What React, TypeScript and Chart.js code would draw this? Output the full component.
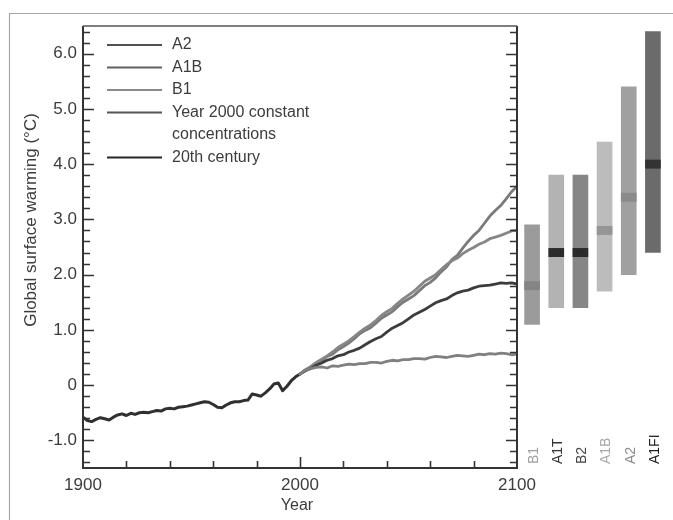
import React, { useEffect, useRef } from 'react';
import { Chart, registerables } from 'chart.js';

Chart.register(...registerables);

// ---------- DATA ----------
const histYears = [
  1900, 1902, 1904, 1906, 1908, 1910, 1912, 1914, 1916, 1918,
  1920, 1922, 1924, 1926, 1928, 1930, 1932, 1934, 1936, 1938,
  1940, 1942, 1944, 1946, 1948, 1950, 1952, 1954, 1956, 1958,
  1960, 1962, 1964, 1966, 1968, 1970, 1972, 1974, 1976, 1978,
  1980, 1982, 1984, 1986, 1988, 1990, 1992, 1994, 1996, 1998, 2000,
];
const histValues = [
  -0.58, -0.64, -0.66, -0.62, -0.59, -0.61, -0.63, -0.58, -0.54, -0.52,
  -0.55, -0.51, -0.53, -0.5, -0.49, -0.5, -0.48, -0.46, -0.47, -0.43,
  -0.42, -0.43, -0.4, -0.39, -0.38, -0.36, -0.34, -0.32, -0.3, -0.31,
  -0.35, -0.4, -0.41, -0.36, -0.32, -0.3, -0.3, -0.28, -0.27, -0.16,
  -0.18, -0.2, -0.14, -0.07, 0.02, 0.04, -0.1, -0.02, 0.08, 0.15, 0.2,
];

const projYears = [
  2000, 2002.5, 2005, 2007.5, 2010, 2012.5, 2015, 2017.5, 2020, 2022.5,
  2025, 2027.5, 2030, 2032.5, 2035, 2037.5, 2040, 2042.5, 2045, 2047.5,
  2050, 2052.5, 2055, 2057.5, 2060, 2062.5, 2065, 2067.5, 2070, 2072.5,
  2075, 2077.5, 2080, 2082.5, 2085, 2087.5, 2090, 2092.5, 2095, 2097.5, 2100,
];
const a2Values = [
  0.2, 0.27, 0.33, 0.37, 0.44, 0.52, 0.56, 0.64, 0.7, 0.76,
  0.84, 0.93, 0.99, 1.04, 1.12, 1.21, 1.27, 1.33, 1.42, 1.5,
  1.56, 1.62, 1.71, 1.8, 1.86, 1.94, 2.05, 2.14, 2.27, 2.35,
  2.48, 2.6, 2.71, 2.8, 2.93, 3.06, 3.16, 3.25, 3.37, 3.5, 3.6,
];
const a1bValues = [
  0.2, 0.28, 0.34, 0.41, 0.47, 0.53, 0.6, 0.68, 0.74, 0.8,
  0.88, 0.96, 1.03, 1.09, 1.17, 1.26, 1.33, 1.39, 1.48, 1.56,
  1.63, 1.7, 1.79, 1.88, 1.94, 2.0, 2.09, 2.18, 2.25, 2.3,
  2.38, 2.44, 2.49, 2.55, 2.59, 2.65, 2.68, 2.71, 2.75, 2.79, 2.8,
];
const b1Values = [
  0.2, 0.26, 0.3, 0.36, 0.4, 0.45, 0.48, 0.53, 0.55, 0.6,
  0.63, 0.67, 0.73, 0.79, 0.84, 0.88, 0.96, 1.03, 1.08, 1.13,
  1.2, 1.27, 1.32, 1.37, 1.43, 1.49, 1.53, 1.56, 1.62, 1.67,
  1.7, 1.72, 1.76, 1.79, 1.8, 1.81, 1.83, 1.85, 1.84, 1.85, 1.83,
];
const constValues = [
  0.2, 0.27, 0.3, 0.32, 0.33, 0.31, 0.35, 0.34, 0.36, 0.38,
  0.37, 0.39, 0.39, 0.41, 0.41, 0.4, 0.43, 0.45, 0.44, 0.46,
  0.46, 0.48, 0.48, 0.47, 0.5, 0.52, 0.51, 0.5, 0.52, 0.54,
  0.53, 0.52, 0.54, 0.56, 0.55, 0.57, 0.56, 0.58, 0.57, 0.55, 0.56,
];

const scenarioNames = ['B1', 'A1T', 'B2', 'A1B', 'A2', 'A1FI'];
const rangeLow = [1.1, 1.4, 1.4, 1.7, 2.0, 2.4];
const rangeHigh = [2.9, 3.8, 3.8, 4.4, 5.4, 6.4];
const bestEstimate = [1.8, 2.4, 2.4, 2.8, 3.4, 4.0];

const yTickValues = [-1, 0, 1, 2, 3, 4, 5, 6];
const xTickValues = [1900, 2000, 2100];
const legendLabels = [['A2'], ['A1B'], ['B1'], ['Year 2000 constant', 'concentrations'], ['20th century']];

// ---------- STYLES ----------
const FONT = '"Liberation Sans", Arial, sans-serif';
const TEXT = '#3c3c3c';
const lineColors = ['#7a7a7a', '#868686', '#3c3c3c', '#808080', '#303030'];
const legendColors = ['#505050', '#606060', '#8a8a8a', '#555555', '#262626'];
const barColors = ['#9b9b9b', '#b3b3b3', '#868686', '#bcbcbc', '#a0a0a0', '#6b6b6b'];
const bandColors = ['#858585', '#2b2b2b', '#2b2b2b', '#959595', '#8b8b8b', '#333333'];
const labelColors = ['#a0a0a0', '#333333', '#444444', '#a8a8a8', '#8a8a8a', '#222222'];

const mainPlugin = {
  id: 'mainDecor',
  afterDraw(chart: any) {
    const { ctx, chartArea: a, scales } = chart;
    const x = scales.x;
    const y = scales.y;
    ctx.save();
    // outer frame
    ctx.strokeStyle = '#a8a8a8';
    ctx.lineWidth = 1.2;
    ctx.beginPath();
    ctx.moveTo(9.5, 520);
    ctx.lineTo(9.5, 13.5);
    ctx.lineTo(673, 13.5);
    ctx.stroke();

    // plot box
    ctx.strokeStyle = '#333';
    ctx.lineWidth = 2;
    ctx.beginPath();
    ctx.moveTo(a.left, a.top);
    ctx.lineTo(a.left, a.bottom);
    ctx.lineTo(a.right, a.bottom);
    ctx.lineTo(a.right, a.top);
    ctx.stroke();
    ctx.lineWidth = 1.4;
    ctx.strokeStyle = '#555';
    ctx.beginPath();
    ctx.moveTo(a.left, a.top);
    ctx.lineTo(a.right, a.top);
    ctx.stroke();

    // y ticks (inward on both sides)
    ctx.strokeStyle = '#333';
    ctx.lineWidth = 1.6;
    for (let k = -7; k <= 32; k++) {
      const v = k / 5;
      const py = Math.round(y.getPixelForValue(v)) + 0.5;
      const major = k % 5 === 0;
      const len = major ? 11 : 7;
      ctx.beginPath();
      ctx.moveTo(a.left, py);
      ctx.lineTo(a.left + len, py);
      ctx.moveTo(a.right, py);
      ctx.lineTo(a.right - len, py);
      ctx.stroke();
    }
    // x ticks (upward)
    for (let yr = 1920; yr < 2100; yr += 20) {
      const px = Math.round(x.getPixelForValue(yr)) + 0.5;
      const len = yr === 2000 ? 11 : 7;
      ctx.beginPath();
      ctx.moveTo(px, a.bottom);
      ctx.lineTo(px, a.bottom - len);
      ctx.stroke();
    }

    // legend
    ctx.font = `16px ${FONT}`;
    ctx.textBaseline = 'middle';
    ctx.textAlign = 'left';
    let ly = 45;
    legendLabels.forEach((lines, i) => {
      ctx.strokeStyle = legendColors[i];
      ctx.lineWidth = 1.8;
      ctx.beginPath();
      ctx.moveTo(107, ly);
      ctx.lineTo(162, ly);
      ctx.stroke();
      ctx.fillStyle = TEXT;
      lines.forEach((t, j) => ctx.fillText(t, 172, ly + j * 22.5));
      ly += 22.5 * lines.length;
    });

    // axis titles
    ctx.fillStyle = TEXT;
    ctx.font = `16px ${FONT}`;
    ctx.textAlign = 'center';
    ctx.fillText('Year', x.getPixelForValue(2000) - 3, 506);
    ctx.font = `17px ${FONT}`;
    ctx.translate(31, 220);
    ctx.rotate(-Math.PI / 2);
    ctx.fillText('Global surface warming (°C)', 0, 0);
    ctx.restore();
  },
};

const barPlugin = {
  id: 'barLabels',
  afterDraw(chart: any) {
    const { ctx, chartArea: a, scales } = chart;
    ctx.save();
    ctx.font = `14px ${FONT}`;
    ctx.textAlign = 'left';
    ctx.textBaseline = 'middle';
    scenarioNames.forEach((name, i) => {
      const px = scales.x.getPixelForValue(i) + 2;
      ctx.save();
      ctx.translate(px, a.bottom - 4);
      ctx.rotate(-Math.PI / 2);
      ctx.fillStyle = labelColors[i];
      ctx.fillText(name, 0, 0);
      ctx.restore();
    });
    ctx.restore();
  },
};

const toPoints = (xs: number[], ys: number[]) => xs.map((x, i) => ({ x, y: ys[i] }));

export default function App() {
  const mainRef = useRef<HTMLCanvasElement | null>(null);
  const barRef = useRef<HTMLCanvasElement | null>(null);

  useEffect(() => {
    const lineDs = (label: string, data: any[], color: string, w = 2.8) => ({
      label,
      data,
      borderColor: color,
      backgroundColor: color,
      borderWidth: w,
      pointRadius: 0,
      tension: 0,
      fill: false,
    });
    const main = new Chart(mainRef.current as HTMLCanvasElement, {
      type: 'line',
      data: {
        datasets: [
          lineDs('Year 2000 constant concentrations', toPoints(projYears, constValues), lineColors[3]),
          lineDs('B1', toPoints(projYears, b1Values), lineColors[2]),
          lineDs('A1B', toPoints(projYears, a1bValues), lineColors[1]),
          lineDs('A2', toPoints(projYears, a2Values), lineColors[0]),
          lineDs('20th century', toPoints(histYears, histValues), lineColors[4], 3),
        ],
      },
      options: {
        responsive: false,
        animation: false,
        layout: { padding: { left: 0, top: 26, right: 156, bottom: 0 } },
        plugins: { legend: { display: false }, tooltip: { enabled: false } },
        elements: { line: { borderJoinStyle: 'round', borderCapStyle: 'round' } },
        scales: {
          x: {
            type: 'linear',
            min: 1900,
            max: 2100,
            afterBuildTicks: (s: any) => {
              s.ticks = xTickValues.map((v) => ({ value: v }));
            },
            afterFit: (s: any) => {
              s.height = 52;
            },
            grid: { display: false, drawTicks: false },
            border: { display: false },
            ticks: {
              padding: 7,
              color: TEXT,
              font: { family: FONT, size: 17 },
              maxRotation: 0,
              autoSkip: false,
              callback: (v: any) => String(v),
            },
          },
          y: {
            min: -1.5,
            max: 6.5,
            afterBuildTicks: (s: any) => {
              s.ticks = yTickValues.map((v) => ({ value: v }));
            },
            afterFit: (s: any) => {
              s.width = 83;
            },
            grid: { display: false, drawTicks: false },
            border: { display: false },
            ticks: {
              padding: 6,
              color: TEXT,
              font: { family: FONT, size: 17 },
              callback: (v: any) => (v === 0 ? '0' : Number(v).toFixed(1)),
            },
          },
        },
      } as any,
      plugins: [mainPlugin],
    });

    const bars = new Chart(barRef.current as HTMLCanvasElement, {
      type: 'bar',
      data: {
        labels: scenarioNames,
        datasets: [
          {
            label: 'Best estimate',
            data: bestEstimate.map((b) => [b - 0.075, b + 0.075]),
            backgroundColor: bandColors,
            grouped: false,
            order: 0,
            barThickness: 15,
          } as any,
          {
            label: 'Likely range',
            data: rangeLow.map((l, i) => [l, rangeHigh[i]]),
            backgroundColor: barColors,
            grouped: false,
            order: 1,
            barThickness: 15,
          } as any,
        ],
      },
      options: {
        responsive: false,
        animation: false,
        layout: { padding: { left: 0, right: 0, top: 26, bottom: 52 } },
        plugins: { legend: { display: false }, tooltip: { enabled: false } },
        scales: {
          x: { display: false },
          y: { display: false, min: -1.5, max: 6.5 },
        },
      } as any,
      plugins: [barPlugin],
    });

    return () => {
      main.destroy();
      bars.destroy();
    };
  }, []);

  return (
    <div style={{ position: 'absolute', left: 0, top: 0, width: 673, height: 520, background: '#fff' }}>
      <canvas ref={mainRef} width={673} height={520} style={{ position: 'absolute', left: 0, top: 0 }} />
      <canvas ref={barRef} width={145} height={520} style={{ position: 'absolute', left: 520, top: 0 }} />
    </div>
  );
}
